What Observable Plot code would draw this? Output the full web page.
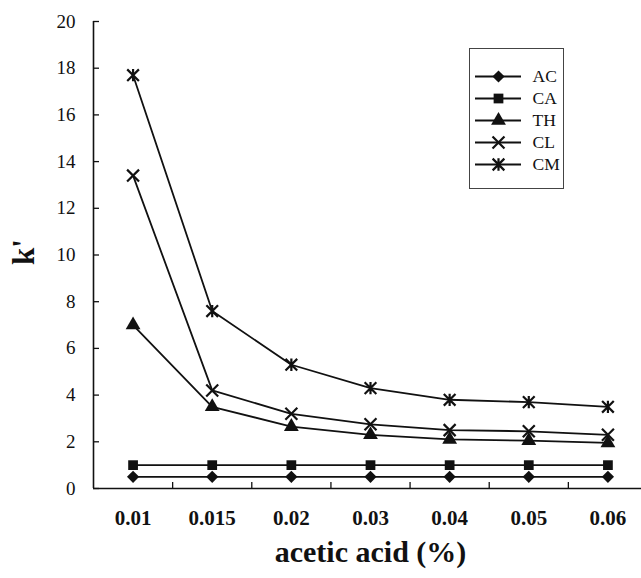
<!DOCTYPE html>
<html><head><meta charset="utf-8">
<script src="https://cdn.jsdelivr.net/npm/d3@7"></script>
<script src="https://cdn.jsdelivr.net/npm/@observablehq/plot@0.6"></script>
<style>
html,body{margin:0;padding:0;background:#fff;overflow:hidden}
#wrap{position:relative;width:641px;height:578px;overflow:hidden}
#legend{position:absolute;left:469px;top:48px;width:93px;height:139px;border:1px solid #444;background:#fff}
svg{display:block}
</style></head><body><div id="wrap"><div id="legend"></div></div>
<script>
const categories = ["0.01", "0.015", "0.02", "0.03", "0.04", "0.05", "0.06"];
const seriesNames = ["AC", "CA", "TH", "CL", "CM"];
const filledSeries = ["AC", "CA", "TH"];
const openSeries = ["CL", "CM"];
const AC = [0.5, 0.5, 0.5, 0.5, 0.5, 0.5, 0.5];
const CA = [1.0, 1.0, 1.0, 1.0, 1.0, 1.0, 1.0];
const TH = [7.0, 3.5, 2.65, 2.3, 2.1, 2.05, 1.95];
const CL = [13.4, 4.2, 3.2, 2.75, 2.5, 2.45, 2.3];
const CM = [17.7, 7.6, 5.3, 4.3, 3.8, 3.7, 3.5];
const yTicks = [0, 2, 4, 6, 8, 10, 12, 14, 16, 18, 20];
const xTitle = "acetic acid (%)";
const yTitle = "k'";

// X with a vertical bar (the CM marker)
const asteriskX = {draw(context, size) {
  const r = Math.sqrt(size) * 0.6;
  context.moveTo(-r, -r); context.lineTo(r, r);
  context.moveTo(-r, r); context.lineTo(r, -r);
  context.moveTo(0, -r * 1.05); context.lineTo(0, r * 1.05);
}};
const seriesSymbols = ["diamond2", "square", "triangle", "times", asteriskX];

const seriesValues = [AC, CA, TH, CL, CM];
const data = seriesNames.flatMap((s, si) => seriesValues[si].map((v, i) => ({series: s, cat: i, value: v})));
const xPos = d => d.cat + 0.5;
const font = "'Liberation Serif', 'Times New Roman', serif";
const ink = "#111";

const chart = Plot.plot({
  width: 641, height: 578,
  marginLeft: 93, marginTop: 21, marginBottom: 90, marginRight: -6,
  style: {fontFamily: font, background: "#fff", color: ink, overflow: "hidden"},
  x: {type: "linear", domain: [0, categories.length]},
  y: {domain: [0, 20]},
  symbol: {domain: seriesNames, range: seriesSymbols},
  marks: [
    Plot.axisY({ticks: yTicks, tickSize: -6, tickPadding: 24, fontSize: 19, label: null, strokeWidth: 1.3}),
    Plot.axisX({ticks: d3.range(1, categories.length + 1), tickSize: -6, tickFormat: () => "", label: null, strokeWidth: 1.3}),
    Plot.axisX({ticks: categories.map((c, i) => i + 0.5), tickSize: 0, tickPadding: 22, tickFormat: d => categories[Math.floor(d)], fontSize: 21, fontWeight: "bold", label: null}),
    Plot.ruleX([0], {stroke: ink, strokeWidth: 1.6}),
    Plot.ruleY([0], {stroke: ink, strokeWidth: 1.6}),
    Plot.line(data, {x: xPos, y: "value", z: "series", stroke: ink, strokeWidth: 1.8}),
    Plot.dot(data.filter(d => filledSeries.includes(d.series)), {x: xPos, y: "value", symbol: "series", fill: ink, stroke: "none", r: 5.5}),
    Plot.dot(data.filter(d => openSeries.includes(d.series)), {x: xPos, y: "value", symbol: "series", fill: "none", stroke: ink, strokeWidth: 2.2, r: 5.5}),
    Plot.text([xTitle], {text: d => d, frameAnchor: "bottom", dy: 73, fontSize: 30, fontWeight: "bold", fill: ink}),
    Plot.text([yTitle], {text: d => d, frameAnchor: "left", dx: -69, dy: 10, rotate: -90, fontSize: 31, fontWeight: "bold", fill: ink})
  ]
});
document.getElementById("wrap").prepend(chart);

const legend = Plot.plot({
  width: 93, height: 139,
  marginLeft: 5, marginRight: 42, marginTop: 15, marginBottom: 13,
  style: {fontFamily: font, background: "#fff", color: ink, overflow: "visible"},
  x: {axis: null, domain: [0, 1]},
  y: {type: "point", domain: seriesNames, axis: null},
  symbol: {domain: seriesNames, range: seriesSymbols},
  marks: [
    Plot.ruleY(seriesNames, {y: d => d, stroke: ink, strokeWidth: 1.8}),
    Plot.dot(filledSeries, {y: d => d, symbol: d => d, fill: ink, stroke: "none", r: 5.5}),
    Plot.dot(openSeries, {y: d => d, symbol: d => d, fill: "#fff", stroke: ink, strokeWidth: 2.2, r: 5.5}),
    Plot.text(seriesNames, {y: d => d, text: d => d, frameAnchor: "right", textAnchor: "start", dx: 11, fontSize: 17.5, fill: ink})
  ]
});
document.getElementById("legend").append(legend);
</script>
</body></html>
